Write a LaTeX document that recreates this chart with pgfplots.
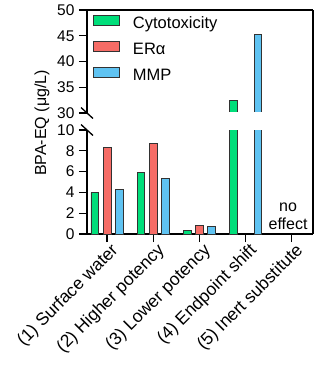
\documentclass[border=0pt]{standalone}
\usepackage{pgfplots}
\pgfplotsset{compat=1.18}
\usepackage{fontspec}
\setmainfont{Liberation Sans}
\definecolor{cg}{RGB}{0,222,122}
\definecolor{cr}{RGB}{246,108,102}
\definecolor{cb}{RGB}{95,195,242}
\definecolor{edge}{RGB}{50,50,50}
\newcommand{\fs}{\fontsize{16}{19}\selectfont}
\begin{document}
\begin{tikzpicture}
\pgfplotsset{
  common/.style={
    scale only axis, width=226pt,
    xmin=-0.435, xmax=4.46,
    ybar, bar width=7.7pt,
    tick align=outside, major tick length=8pt,
    ytick pos=left,
    tick style={line width=1.3pt, black},
    axis line style={line width=1.5pt},
    /pgf/number format/assume math mode=true,
    yticklabel style={font=\fontsize{15.5}{18}\selectfont, xshift=-1pt},
    clip mode=individual,
  },
  cyto/.style={fill=cg, draw=edge, line width=0.8pt, bar shift=-12.3pt},
  era/.style={fill=cr, draw=edge, line width=0.8pt, bar shift=0pt},
  mmp/.style={fill=cb, draw=edge, line width=0.8pt, bar shift=12.3pt},
}
\path[use as bounding box] (-87pt,-139pt) rectangle (231pt,234pt);
% lower segment
\begin{axis}[common, at={(0pt,0pt)}, anchor=south west, height=104pt,
  ymin=0, ymax=10, ytick={0,2,4,6,8,10},
  axis x line*=bottom, axis y line*=left,
  xtick={0,1,2,3,4},
  xticklabels={(1) Surface water,(2) Higher potency,(3) Lower potency,(4) Endpoint shift,(5) Inert substitute},
  xticklabel style={font=\fontsize{17.5}{20}\selectfont, rotate=45, anchor=north east, inner sep=1pt, xshift=3pt, yshift=-1pt},
]
\addplot[cyto] coordinates {(0,4.0) (1,5.9) (2,0.35) (3,32.5)};
\addplot[era] coordinates {(0,8.3) (1,8.7) (2,0.78)};
\addplot[mmp] coordinates {(0,4.3) (1,5.35) (2,0.7) (3,45.2)};
\node[align=center, font=\fs, inner sep=0pt] at (axis cs:3.92,1.68) {no\\[-1pt]effect};
\end{axis}
% upper segment
\begin{axis}[common, at={(0pt,121pt)}, anchor=south west, height=103pt,
  ymin=30, ymax=50, ytick={30,35,40,45,50},
  axis x line*=top, axis y line*=left, xtick=\empty,
  legend style={draw=none, fill=none, at={(axis description cs:0,1)}, anchor=north west,
    xshift=6pt, yshift=-5pt, font=\fontsize{16.5}{19}\selectfont, row sep=8.5pt, inner sep=0pt,
    nodes={inner sep=0pt, text height=12pt, text depth=3.5pt}},
  legend cell align=left,
  legend image code/.code={\draw[#1, bar shift=0pt] (0pt,-1pt) rectangle (26pt,9pt);},
  /tikz/every odd column/.append style={column sep=13pt},
]
\addplot[cyto] coordinates {(3,32.5)};
\addlegendentry{Cytotoxicity}
\addlegendimage{era}
\addlegendentry{ERα}
\addplot[mmp] coordinates {(3,45.2)};
\addlegendentry{MMP}
\end{axis}
% hide bottom edges of the broken bars
\draw[white, line width=1.2pt] (1pt,121pt) -- (225pt,121pt);
% right frame line
\draw[line width=1.3pt] (226pt,0pt) -- (226pt,224pt);
% break marks
\draw[line width=1.3pt] (-6pt,126.5pt) -- (6pt,115.5pt);
\draw[line width=1.3pt] (-6pt,109.5pt) -- (6pt,98.5pt);
% y label
\node[rotate=90, font=\fontsize{16}{19}\selectfont] at (-45pt,111pt) {BPA-EQ (μg/L)};
\end{tikzpicture}
\end{document}
